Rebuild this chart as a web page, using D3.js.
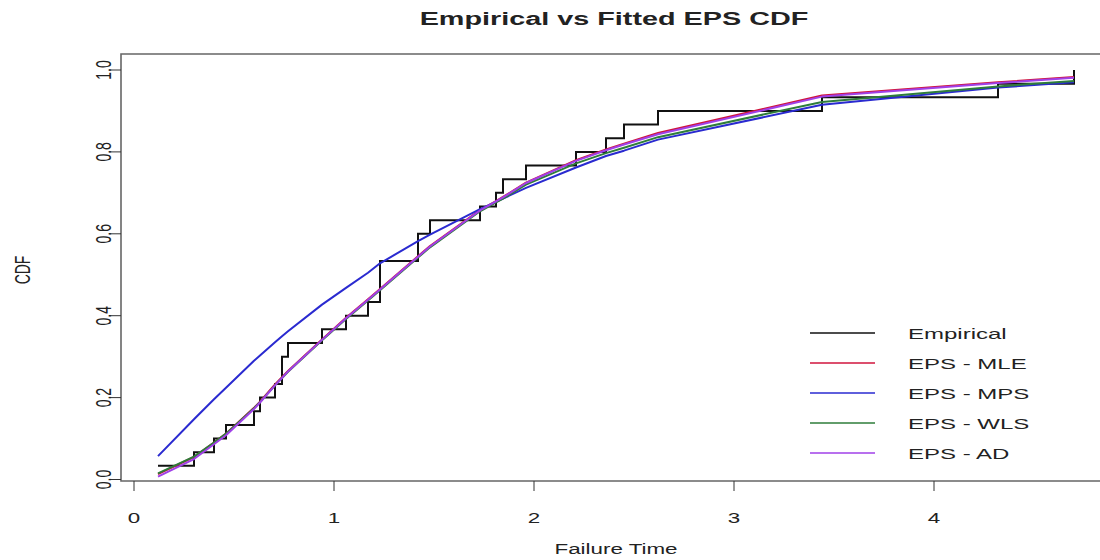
<!DOCTYPE html>
<html>
<head>
<meta charset="utf-8">
<script src="https://cdn.jsdelivr.net/npm/d3@7"></script>
<style>
  body { margin: 0; background: #fff; }
  svg text { font-family: "Liberation Sans", Arial, Helvetica, sans-serif; fill: #222; }
</style>
</head>
<body>
<div id="chart"></div>
<script>
// sorted failure times (sample)
const failureTime = [0.12, 0.30, 0.40, 0.46, 0.60, 0.63, 0.705, 0.74, 0.74, 0.77,
                     0.94, 1.06, 1.17, 1.23, 1.23, 1.23, 1.42, 1.42, 1.48, 1.73,
                     1.81, 1.845, 1.96, 2.21, 2.36, 2.45, 2.62, 3.44, 4.32, 4.70];

// fitted CDF values at each failure time
const mleCdf = [0.013, 0.055, 0.090, 0.112, 0.175, 0.190, 0.232, 0.250, 0.250, 0.265,
                0.342, 0.395, 0.440, 0.465, 0.465, 0.465, 0.545, 0.545, 0.570, 0.658,
                0.680, 0.690, 0.725, 0.780, 0.806, 0.820, 0.846, 0.938, 0.970, 0.983];
const mpsCdf = [0.057, 0.147, 0.196, 0.224, 0.290, 0.303, 0.335, 0.350, 0.350, 0.362,
                0.427, 0.468, 0.505, 0.528, 0.528, 0.528, 0.582, 0.582, 0.598, 0.660,
                0.678, 0.686, 0.712, 0.762, 0.790, 0.803, 0.830, 0.915, 0.957, 0.970];
const wlsCdf = [0.015, 0.056, 0.090, 0.112, 0.174, 0.189, 0.230, 0.248, 0.248, 0.263,
                0.340, 0.392, 0.437, 0.462, 0.462, 0.462, 0.542, 0.542, 0.567, 0.655,
                0.677, 0.686, 0.720, 0.772, 0.797, 0.810, 0.836, 0.922, 0.960, 0.973];
const adCdf  = [0.007, 0.050, 0.086, 0.108, 0.172, 0.188, 0.230, 0.248, 0.248, 0.264,
                0.341, 0.394, 0.439, 0.464, 0.464, 0.464, 0.544, 0.544, 0.569, 0.657,
                0.679, 0.689, 0.724, 0.778, 0.804, 0.818, 0.843, 0.935, 0.968, 0.981];

const xTicks = [0, 1, 2, 3, 4];
const yTicks = [0.0, 0.2, 0.4, 0.6, 0.8, 1.0];
const legendLabels = ["Empirical", "EPS - MLE", "EPS - MPS", "EPS - WLS", "EPS - AD"];
const lineColors = ["#111111", "#d0143c", "#2a2ad0", "#2e7d3a", "#a040e8"];

const width = 1100;
const height = 560;
const sx = 1.6; // the reference text is stretched horizontally

const svg = d3.select("#chart")
    .append("svg")
    .attr("width", width)
    .attr("height", height);

const x = d3.scaleLinear().domain([0, 5]).range([134, 1134]);
const y = d3.scaleLinear().domain([0, 1]).range([479.5, 70]);

const box = { left: 121, top: 54, right: 1130, bottom: 481 };

// empirical cdf levels from the sample
const n = failureTime.length;
const empPoints = failureTime.map((t, i) => [t, (i + 1) / n]);

const plotArea = svg.append("g");

const stepLine = d3.line()
    .x(d => x(d[0]))
    .y(d => y(d[1]))
    .curve(d3.curveStepAfter);

plotArea.append("path")
    .attr("d", stepLine(empPoints))
    .attr("fill", "none")
    .attr("stroke", lineColors[0])
    .attr("stroke-width", 2);

const fitted = [mleCdf, mpsCdf, wlsCdf, adCdf];
const fitLine = d3.line()
    .x(d => x(d[0]))
    .y(d => y(d[1]));

fitted.forEach((vals, k) => {
    plotArea.append("path")
        .attr("d", fitLine(failureTime.map((t, i) => [t, vals[i]])))
        .attr("fill", "none")
        .attr("stroke", lineColors[k + 1])
        .attr("stroke-width", 2)
        .attr("stroke-linejoin", "round");
});

// box
svg.append("path")
    .attr("d", `M${box.right},${box.top}H${box.left}V${box.bottom}H${box.right}`)
    .attr("fill", "none")
    .attr("stroke", "#666")
    .attr("stroke-width", 1.6);

// x axis (R style, ticks outward)
const xAxis = svg.append("g");
xAxis.selectAll("line")
    .data(xTicks)
    .enter()
    .append("line")
    .attr("x1", d => x(d)).attr("x2", d => x(d))
    .attr("y1", box.bottom).attr("y2", box.bottom + 10)
    .attr("stroke", "#333").attr("stroke-width", 1);
xAxis.selectAll("text")
    .data(xTicks)
    .enter()
    .append("text")
    .attr("transform", d => `translate(${x(d)},523) scale(${sx},1)`)
    .attr("text-anchor", "middle")
    .attr("font-size", 14)
    .text(d => d);

// y axis
const yAxis = svg.append("g");
yAxis.selectAll("line")
    .data(yTicks)
    .enter()
    .append("line")
    .attr("x1", box.left).attr("x2", box.left - 12)
    .attr("y1", d => y(d)).attr("y2", d => y(d))
    .attr("stroke", "#333").attr("stroke-width", 1);
yAxis.selectAll("text")
    .data(yTicks)
    .enter()
    .append("text")
    .attr("transform", d => `translate(111,${y(d)}) scale(${sx},1) rotate(-90)`)
    .attr("text-anchor", "middle")
    .attr("font-size", 14)
    .text(d => d3.format(".1f")(d));

// titles
svg.append("text")
    .attr("transform", `translate(614,25) scale(${sx},1)`)
    .attr("text-anchor", "middle")
    .attr("font-size", 18)
    .attr("font-weight", "bold")
    .text("Empirical vs Fitted EPS CDF");

svg.append("text")
    .attr("transform", `translate(616,554) scale(${sx},1)`)
    .attr("text-anchor", "middle")
    .attr("font-size", 14)
    .text("Failure Time");

svg.append("text")
    .attr("transform", `translate(30,270) scale(${sx},1) rotate(-90)`)
    .attr("text-anchor", "middle")
    .attr("font-size", 14)
    .text("CDF");

// legend, no frame
const legend = svg.append("g");
const rows = legend.selectAll("g")
    .data(legendLabels)
    .enter()
    .append("g")
    .attr("transform", (d, i) => `translate(0,${333 + i * 30})`);
rows.append("line")
    .attr("x1", 810).attr("x2", 875)
    .attr("stroke", (d, i) => lineColors[i])
    .attr("stroke-width", 1.6);
rows.append("text")
    .attr("transform", `translate(908,5.5) scale(${sx},1)`)
    .attr("font-size", 15)
    .text(d => d);
</script>
</body>
</html>
